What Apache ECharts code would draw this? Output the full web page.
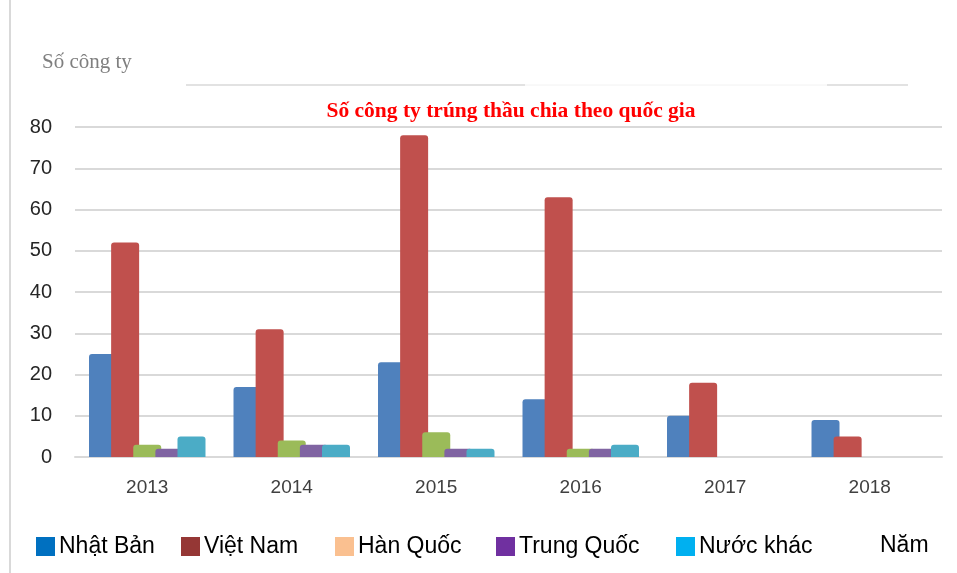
<!DOCTYPE html>
<html>
<head>
<meta charset="utf-8">
<script src="https://cdn.jsdelivr.net/npm/echarts@6/dist/echarts.min.js"></script>
<style>
  html, body { margin: 0; padding: 0; background: #fff; }
  #main { width: 957px; height: 573px; }
</style>
</head>
<body>
<div id="main"></div>
<script>
const years = ["2013", "2014", "2015", "2016", "2017", "2018"];
const nhatBan = [25, 17, 23, 14, 10, 9];
const vietNam = [52, 31, 78, 63, 18, 5];
const hanQuoc = [3, 4, 6, 2, 0, 0];
const trungQuoc = [2, 3, 2, 2, 0, 0];
const nuocKhac = [5, 3, 2, 3, 0, 0];

const seriesNames = ["Nhật Bản", "Việt Nam", "Hàn Quốc", "Trung Quốc", "Nước khác"];
const barColors = ["#4F81BD", "#C0504D", "#9BBB59", "#8064A2", "#4BACC6"];
const legendColors = ["#0070C0", "#953735", "#FAC090", "#7030A0", "#00B0F0"];
const legendLeft = [36, 181, 335, 496, 676];
const values = [nhatBan, vietNam, hanQuoc, trungQuoc, nuocKhac];

let myChart = echarts.init(document.getElementById("main"));

let series = values.map((d, i) => ({
  name: seriesNames[i],
  type: "bar",
  data: d,
  barWidth: 28,
  barGap: "-21%",
  itemStyle: {
    color: barColors[i],
    borderRadius: [3, 3, 0, 0]
  }
}));

let legends = seriesNames.map((n, i) => ({
  left: legendLeft[i],
  top: 535,
  padding: 0,
  itemWidth: 19,
  itemHeight: 19,
  itemGap: 0,
  icon: "rect",
  selectedMode: false,
  textStyle: { fontFamily: "Liberation Sans", fontSize: 23, color: "#000", padding: [0, 0, 0, -1] },
  data: [{ name: n, itemStyle: { color: legendColors[i] } }]
}));

let option = {
  animation: false,
  title: {
    text: "Số công ty trúng thầu chia theo quốc gia",
    left: 506,
    textAlign: "center",
    top: 95,
    textStyle: { fontFamily: "Liberation Serif", fontSize: 21.5, fontWeight: "bold", color: "#FF0000" }
  },
  legend: legends,
  grid: { left: 75, right: 15, top: 127, bottom: 116 },
  xAxis: {
    type: "category",
    data: years,
    axisTick: { show: false },
    axisLine: { lineStyle: { color: "#d9d9d9", width: 2 } },
    axisLabel: { margin: 21, fontFamily: "Liberation Sans", fontSize: 19, color: "#404040" }
  },
  yAxis: {
    type: "value",
    min: 0,
    max: 80,
    interval: 10,
    axisLabel: { margin: 23, fontFamily: "Liberation Sans", fontSize: 20, color: "#262626" },
    splitLine: { lineStyle: { color: "#d9d9d9", width: 2 } }
  },
  graphic: [
    { type: "line", shape: { x1: 10, y1: 0, x2: 10, y2: 573 }, style: { stroke: "#d9d9d9", lineWidth: 2 } },
    { type: "line", shape: { x1: 186, y1: 85, x2: 525, y2: 85 }, style: { stroke: "#d9d9d9", lineWidth: 1.5 } },
    { type: "line", shape: { x1: 525, y1: 85, x2: 827, y2: 85 }, style: { stroke: "#f2f2f2", lineWidth: 1 } },
    { type: "line", shape: { x1: 827, y1: 85, x2: 908, y2: 85 }, style: { stroke: "#d9d9d9", lineWidth: 1.5 } },
    { type: "text", left: 42, top: 52, style: { text: "Số công ty", font: "21px 'Liberation Serif'", fill: "#7f7f7f" } },
    { type: "text", left: 880, top: 534, style: { text: "Năm", font: "23px 'Liberation Sans'", fill: "#000" } }
  ],
  series: series
};
myChart.setOption(option);
</script>
</body>
</html>
